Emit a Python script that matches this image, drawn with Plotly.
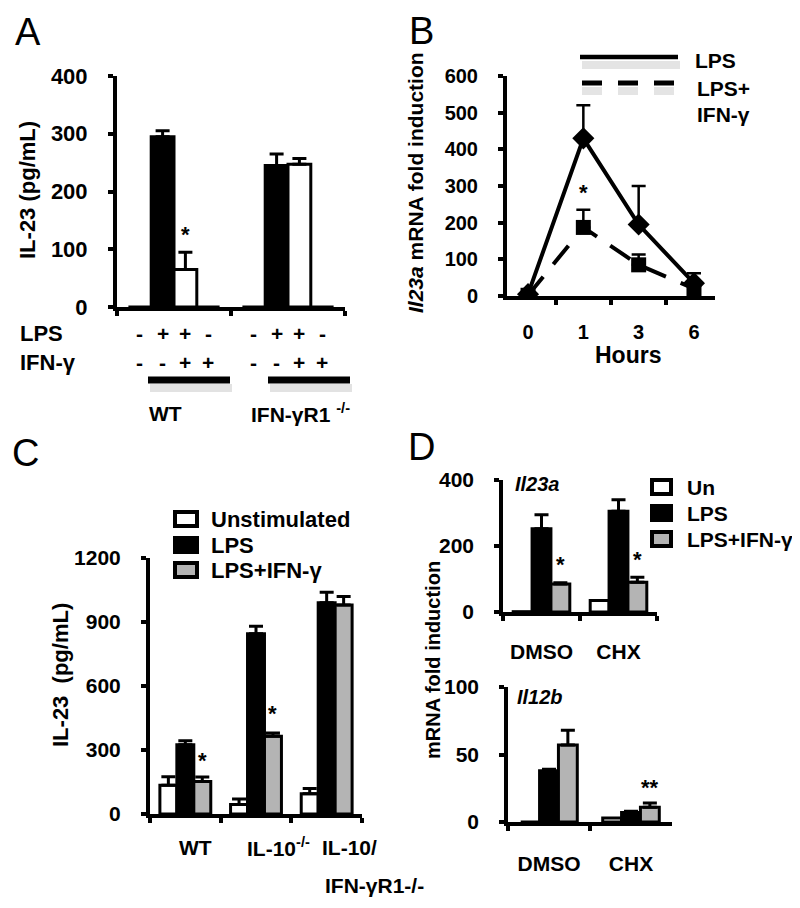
import plotly.graph_objects as go

W, H = 800, 908
OFF = 8  # page body margin shifts the figure; compensate
FONT = "Liberation Sans, Arial, sans-serif"
GRAY = "#b4b4b4"

# ---- panel A: IL-23 protein, WT vs IFN-gR1 KO
a_groups = ["WT", "IFN-γR1 -/-"]
a_lps_row = ["-", "+", "+", "-"]
a_ifn_row = ["-", "-", "+", "+"]
a_unstim = [0, 0]
a_lps = [295, 245]
a_lps_ifn = [65, 247]
a_ifn = [0, 0]
a_lps_err = [10, 20]
a_lps_ifn_err = [30, 10]

# ---- panel B: Il23a time course
b_hours = ["0", "1", "3", "6"]
b_lps = [5, 430, 195, 35]
b_lps_err = [0, 90, 105, 27]
b_lps_ifn = [2, 187, 85, 20]
b_lps_ifn_err = [0, 48, 28, 0]

# ---- panel C: IL-23 protein in IL-10 KO
c_groups = ["WT", "IL-10-/-", "IL-10/IFN-γR1-/-"]
c_unstim = [135, 45, 95]
c_unstim_err = [40, 25, 25]
c_lps = [325, 845, 990]
c_lps_err = [18, 35, 50]
c_lps_ifn = [152, 365, 980]
c_lps_ifn_err = [22, 15, 40]

# ---- panel D: Il23a / Il12b with CHX
d_groups = ["DMSO", "CHX"]
d23_un = [1, 35]
d23_lps = [252, 305]
d23_lps_err = [43, 35]
d23_lps_ifn = [85, 90]
d23_lps_ifn_err = [4, 15]
d12_un = [0, 3]
d12_lps = [38, 7]
d12_lps_err = [1, 1]
d12_lps_ifn = [57, 11]
d12_lps_ifn_err = [11, 3]


def fx(p):
    return (p - OFF) / W


def fy(p):
    return 1 - (p - OFF) / H


def bold(size):
    return dict(family=FONT, size=size, color="black", weight="bold")


fig = go.Figure()


def bars(ax, ay, groups, vals, errs, fills, w):
    n = len(vals)
    for i in range(n):
        off = -w * n / 2 + i * w
        err = errs[i] if errs[i] is not None else [0] * len(groups)
        fig.add_trace(go.Bar(
            x=groups, y=vals[i], width=w, offset=off,
            xaxis=ax, yaxis=ay, showlegend=False,
            marker=dict(color=fills[i], line=dict(color="black", width=3)),
            error_y=dict(type="data", array=err, arrayminus=[0] * len(groups),
                         symmetric=False, color="black", thickness=3, width=7,
                         visible=errs[i] is not None)))


def center(i, n, w):
    return -w * n / 2 + (i + 0.5) * w


wa, wc, wd = 0.2, 0.24, 0.245
bars("x", "y", a_groups, [a_unstim, a_lps, a_lps_ifn, a_ifn],
     [None, a_lps_err, a_lps_ifn_err, None], ["white", "black", "white", "white"], wa)

fig.add_trace(go.Scatter(
    x=b_hours, y=b_lps, xaxis="x2", yaxis="y2", mode="lines+markers", showlegend=False,
    line=dict(color="black", width=4),
    marker=dict(symbol="diamond", size=17, color="black"),
    error_y=dict(type="data", array=b_lps_err, arrayminus=[0] * 4, symmetric=False,
                 color="black", thickness=2.5, width=7)))
fig.add_trace(go.Scatter(
    x=b_hours, y=b_lps_ifn, xaxis="x2", yaxis="y2", mode="lines+markers", showlegend=False,
    line=dict(color="black", width=4, dash="24px,16px"),
    marker=dict(symbol="square", size=15, color="black"),
    error_y=dict(type="data", array=b_lps_ifn_err, arrayminus=[0] * 4, symmetric=False,
                 color="black", thickness=2.5, width=7)))

bars("x3", "y3", c_groups, [c_unstim, c_lps, c_lps_ifn],
     [c_unstim_err, c_lps_err, c_lps_ifn_err], ["white", "black", GRAY], wc)
bars("x4", "y4", d_groups, [d23_un, d23_lps, d23_lps_ifn],
     [None, d23_lps_err, d23_lps_ifn_err], ["white", "black", GRAY], wd)
bars("x5", "y5", d_groups, [d12_un, d12_lps, d12_lps_ifn],
     [None, d12_lps_err, d12_lps_ifn_err], ["white", "black", GRAY], 0.23)


def xax(x0, x1, anchor, lw=4, labels=False, size=21, standoff=0):
    return dict(domain=[fx(x0), fx(x1)], anchor=anchor, type="category",
                showline=True, linecolor="black", linewidth=lw, ticks="outside",
                tickson="boundaries", ticklen=5, tickwidth=lw, tickcolor="black",
                showgrid=False, zeroline=False, showticklabels=labels, automargin=False,
                tickfont=bold(size), ticklabelstandoff=standoff)


def yax(y0, y1, anchor, rng, dtick, lw=4, size=21):
    return dict(domain=[fy(y1), fy(y0)], anchor=anchor, range=rng, dtick=dtick,
                showline=True, linecolor="black", linewidth=lw, ticks="outside",
                ticklen=5, tickwidth=lw, tickcolor="black", showgrid=False,
                zeroline=False, tickfont=bold(size), ticklabelstandoff=16,
                automargin=False)


fig.update_layout(
    template="none",
    width=W, height=H, margin=dict(l=0, r=0, t=0, b=0, pad=0),
    paper_bgcolor="white", plot_bgcolor="white", barmode="overlay",
    font=dict(family=FONT, color="black"), showlegend=False,
    xaxis=xax(117, 345, "y"), yaxis=yax(76, 307, "x", [0, 400], 100, size=22),
    xaxis2=xax(507, 715, "y2", labels=True, size=20, standoff=15),
    yaxis2=yax(76, 296, "x2", [0, 600], 100, size=20),
    xaxis3=xax(150, 362, "y3"), yaxis3=yax(558, 814, "x3", [0, 1200], 300),
    xaxis4=xax(503, 657, "y4", lw=3.5, labels=True, standoff=18),
    yaxis4=yax(480, 612, "x4", [0, 400], 200, lw=3.5),
    xaxis5=xax(508, 672, "y5", lw=3.5, labels=True, standoff=20),
    yaxis5=yax(687, 822, "x5", [0, 100], 50, lw=3.5),
)

ann = []


def text(x, y, s, size, xanchor="center", angle=0, weight="bold", xref="paper", style="normal"):
    ann.append(dict(x=x if xref != "paper" else fx(x), y=fy(y), xref=xref, yref="paper",
                    text=s, showarrow=False, xanchor=xanchor, yanchor="middle",
                    textangle=angle,
                    font=dict(family=FONT, size=size, color="black", weight=weight,
                              style=style)))


def star(xref, yref, x, y, s="*"):
    ann.append(dict(x=x, y=y, xref=xref, yref=yref, text=s, showarrow=False,
                    yanchor="bottom", font=bold(22)))


# panel letters
for letter, (lx, ly) in {"A": (28, 32), "B": (421, 31), "C": (25, 453), "D": (422, 447)}.items():
    text(lx, ly, letter, 38, weight="normal")

# A annotations
text(27, 190, "IL-23 (pg/mL)", 22, angle=-90)
text(18, 333, "LPS", 22, xanchor="left")
text(18, 362, "IFN-γ", 22, xanchor="left")
for g in range(len(a_groups)):
    for i in range(4):
        cx = g + center(i, 4, wa)
        text(cx, 333, a_lps_row[i], 21, xref="x")
        text(cx, 362, a_ifn_row[i], 21, xref="x")
text(165, 413, "WT", 21)
text(300, 413, "IFN-γR1 <sup>-/-</sup>", 21)
star("x", "y", 0 + center(2, 4, wa), a_lps_ifn[0] + a_lps_ifn_err[0] + 5)

# B annotations
text(415, 183, "<i>Il23a</i> mRNA fold induction", 21, angle=-90)
text(628, 355, "Hours", 23)
text(693, 60, "LPS", 21, xanchor="left")
text(695, 88, "LPS+", 21, xanchor="left")
text(695, 114, "IFN-γ", 21, xanchor="left")
star("x2", "y2", 1, b_lps_ifn[1] + b_lps_ifn_err[1] + 8)

# C annotations
text(60, 675, "IL-23  (pg/mL)", 22, angle=-90)
text(195, 847, "WT", 21)
text(245, 847, "IL-10<sup>-/-</sup>", 21, xanchor="left")
text(320, 847, "IL-10/", 21, xanchor="left")
text(323, 885, "IFN-γR1-/-", 21, xanchor="left")
c_legend = [("Unstimulated", "white", 519), ("LPS", "black", 545), ("LPS+IFN-γ", GRAY, 570)]
for lab, col, ly in c_legend:
    text(209, ly, lab, 22, xanchor="left")
star("x3", "y3", 0 + center(2, 3, wc), c_lps_ifn[0] + c_lps_ifn_err[0] + 10)
star("x3", "y3", 1 + center(2, 3, wc), c_lps_ifn[1] + c_lps_ifn_err[1] + 25)

# D annotations
text(433, 660, "mRNA fold induction", 20, angle=-90)
text(513, 484, "Il23a", 20, xanchor="left", style="italic")
text(515, 697, "Il12b", 20, xanchor="left", style="italic")
d_legend = [("Un", "white", 487), ("LPS", "black", 513), ("LPS+IFN-γ", GRAY, 539)]
for lab, col, ly in d_legend:
    text(685, ly, lab, 21, xanchor="left")
star("x4", "y4", 0 + center(2, 3, wd), d23_lps_ifn[0] + d23_lps_ifn_err[0] + 10)
star("x4", "y4", 1 + center(2, 3, wd), d23_lps_ifn[1] + d23_lps_ifn_err[1] + 10)
star("x5", "y5", 1 + center(2, 3, 0.23), d12_lps_ifn[1] + d12_lps_ifn_err[1] + 1, "**")

fig.update_layout(annotations=ann)

shapes = []


def hline(x0, x1, y, width, color="black", dash=None):
    shapes.append(dict(type="line", xref="paper", yref="paper", x0=fx(x0), x1=fx(x1),
                       y0=fy(y), y1=fy(y), line=dict(color=color, width=width, dash=dash)))


# A group underlines with soft shadow
for x0, x1 in [(148, 230), (268, 350)]:
    hline(x0 + 2, x1 + 2, 388, 8, "#e2e2e2")
    hline(x0, x1, 380, 7)
# B legend lines
hline(582, 680, 65, 8, "#e4e4e4")
hline(580, 678, 57, 4.5)
hline(582, 675, 91, 8, "#e4e4e4", "20px,16px")
hline(582, 675, 83, 5, "black", "20px,16px")


def box(x0, x1, y0, y1, fill):
    shapes.append(dict(type="rect", xref="paper", yref="paper", x0=fx(x0), x1=fx(x1),
                       y0=fy(y1), y1=fy(y0), fillcolor=fill,
                       line=dict(color="black", width=4)))


for lab, col, ly in c_legend:
    box(175, 197, ly - 7, ly + 7, col)
for lab, col, ly in d_legend:
    box(652, 671, ly - 7, ly + 7, col)

fig.update_layout(shapes=shapes)
fig.write_html("out.html")
